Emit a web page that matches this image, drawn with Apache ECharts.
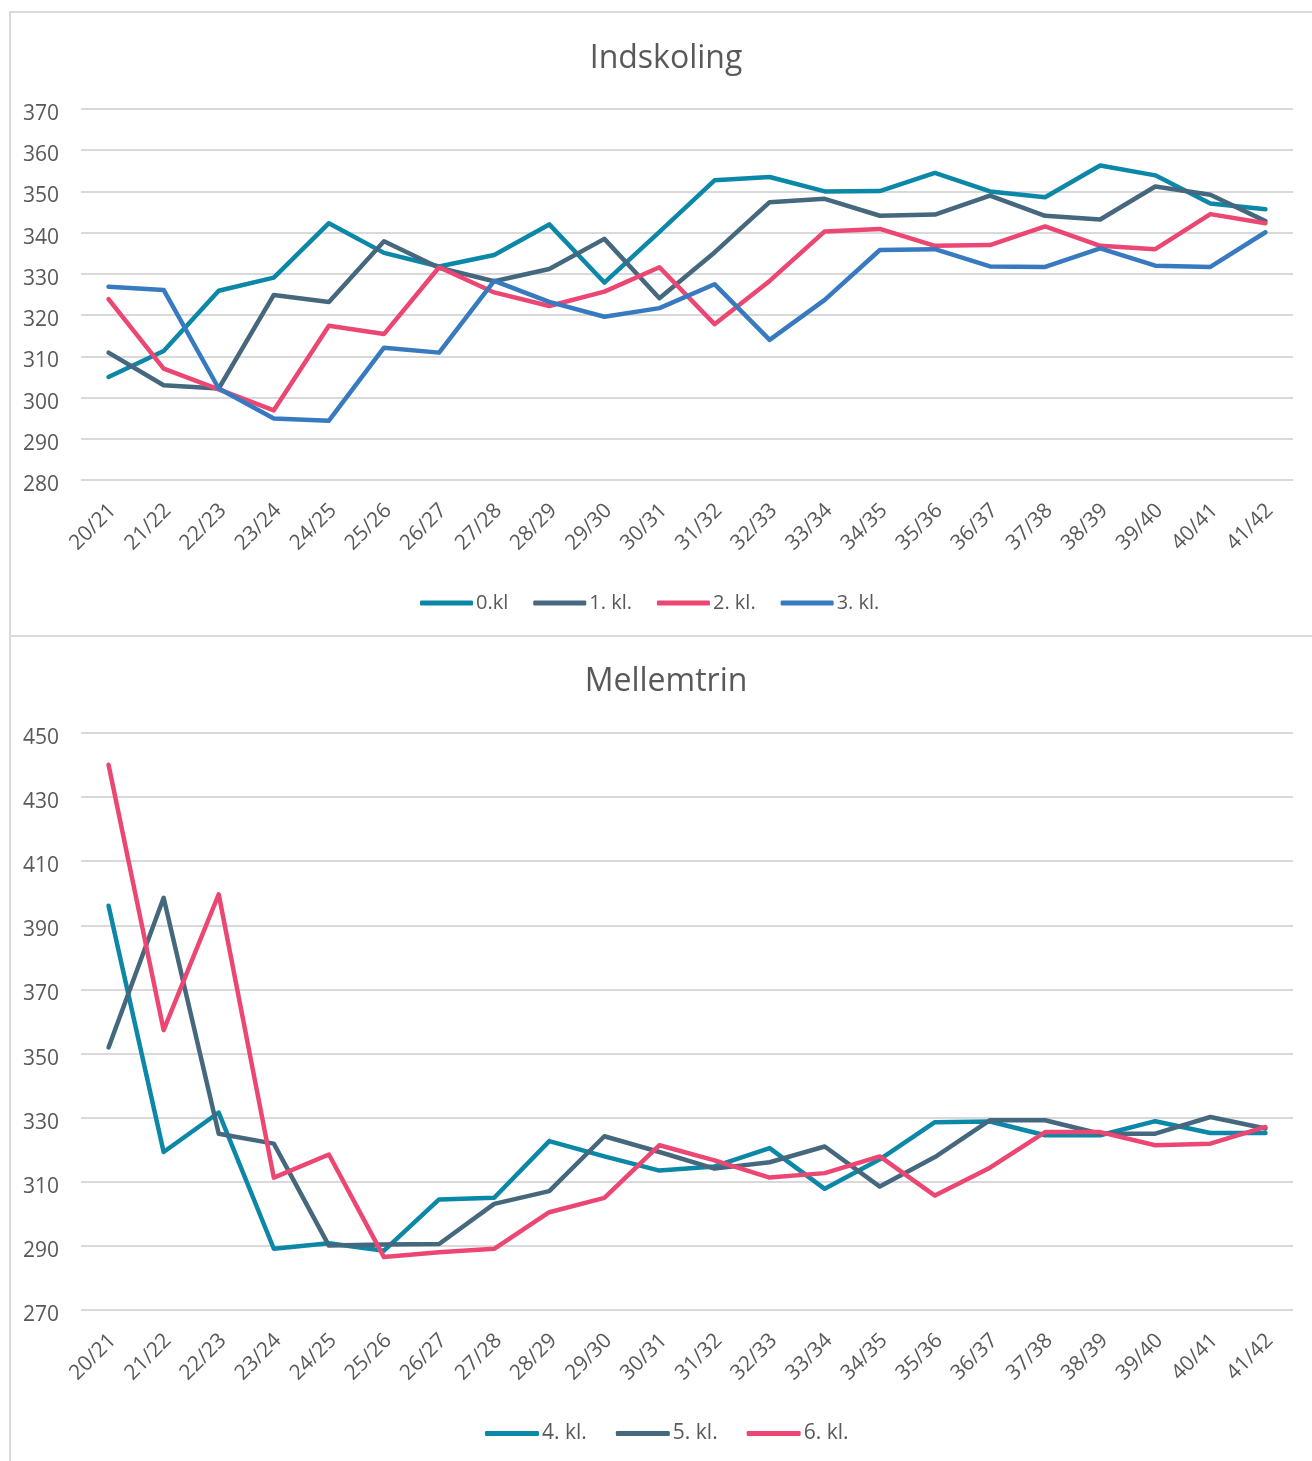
<!DOCTYPE html>
<html>
<head>
<meta charset="utf-8">
<script src="https://cdn.jsdelivr.net/npm/echarts@6/dist/echarts.min.js"></script>
<style>
  html, body { margin: 0; padding: 0; background: #fff; }
  #wrap { position: relative; width: 1312px; height: 1461px; overflow: hidden; }
  .frame { position: absolute; border: 2px solid #d9d9d9; box-sizing: border-box; }
  #chart { position: absolute; left: 0; top: 0; width: 1312px; height: 1461px; }
</style>
</head>
<body>
<div id="wrap">
  <div class="frame" style="left:9px; top:11px; width:1320px; height:626px;"></div>
  <div class="frame" style="left:9px; top:635px; width:1320px; height:840px;"></div>
  <div id="chart"></div>
</div>
<script>
// skoleår
var seasons = ['20/21', '21/22', '22/23', '23/24', '24/25', '25/26', '26/27', '27/28', '28/29', '29/30', '30/31',
  '31/32', '32/33', '33/34', '34/35', '35/36', '36/37', '37/38', '38/39', '39/40', '40/41', '41/42'];

// Indskoling
var kl0 = [305.0, 311.3, 325.9, 329.1, 342.3, 335.1, 331.8, 334.6, 342.0, 327.9, 340.2, 352.7, 353.5, 350.0, 350.1, 354.5, 350.0, 348.6, 356.3, 353.9, 347.1, 345.7];
var kl1 = [310.9, 303.0, 302.2, 324.9, 323.2, 337.9, 331.5, 328.2, 331.2, 338.5, 324.1, 335.2, 347.4, 348.2, 344.1, 344.4, 349.0, 344.1, 343.2, 351.2, 349.2, 342.8];
var kl2 = [323.9, 307.0, 302.0, 296.9, 317.4, 315.4, 331.6, 325.5, 322.2, 325.7, 331.6, 317.8, 328.3, 340.3, 340.9, 336.8, 337.0, 341.5, 336.8, 336.0, 344.5, 342.3];
var kl3 = [326.9, 326.1, 302.2, 294.9, 294.4, 312.1, 310.9, 328.3, 323.2, 319.6, 321.7, 327.5, 314.0, 323.7, 335.8, 336.0, 331.8, 331.7, 336.2, 332.0, 331.7, 340.1];

// Mellemtrin
var kl4 = [396.1, 319.3, 331.6, 289.1, 290.8, 288.5, 304.5, 305.0, 322.7, 317.9, 313.5, 314.8, 320.5, 307.8, 317.0, 328.6, 328.8, 324.5, 324.5, 328.9, 325.2, 325.2];
var kl5 = [351.9, 398.6, 325.0, 321.9, 290.1, 290.4, 290.6, 303.1, 307.1, 324.2, 319.3, 314.1, 316.1, 321.0, 308.5, 317.7, 329.2, 329.2, 325.0, 325.0, 330.2, 326.6];
var kl6 = [440.1, 357.3, 399.7, 311.3, 318.5, 286.5, 288.0, 289.1, 300.5, 305.0, 321.4, 316.7, 311.3, 312.7, 317.9, 305.7, 314.4, 325.5, 325.5, 321.4, 321.9, 327.1];

// y-akser
var topAxis = { min: 280, max: 370, step: 10 };
var bottomAxis = { min: 270, max: 450, step: 20 };

var txt = '#595959';
var font = 'Open Sans';

var chart = echarts.init(document.getElementById('chart'));

function xAxis(grid) {
  return {
    type: 'category',
    gridIndex: grid,
    data: seasons,
    boundaryGap: true,
    axisLine: { show: false },
    axisTick: { show: false },
    axisLabel: {
      rotate: 45, margin: 23, interval: 0,
      align: 'right', verticalAlign: 'top', lineHeight: 12,
      color: txt, fontSize: 21, fontFamily: font
    }
  };
}

function yAxis(grid, ax) {
  return {
    type: 'value',
    gridIndex: grid,
    min: ax.min,
    max: ax.max,
    interval: ax.step,
    axisLine: { show: false },
    axisTick: { show: false },
    axisLabel: {
      color: txt, fontSize: 21, fontFamily: font, margin: 22,
      verticalAlign: 'top', lineHeight: 10
    },
    splitLine: { lineStyle: { color: '#d9d9d9', width: 2 } }
  };
}

function line(name, data, color, idx) {
  return {
    name: name,
    type: 'line',
    xAxisIndex: idx,
    yAxisIndex: idx,
    data: data,
    symbol: 'none',
    color: color,
    lineStyle: { width: 4.5, color: color, cap: 'round', join: 'round' }
  };
}

function legend(names, left, top, size, width, gap) {
  return {
    data: names,
    left: left,
    top: top,
    icon: 'roundRect',
    itemWidth: width,
    itemHeight: 5,
    itemGap: gap,
    textStyle: { color: txt, fontSize: size, fontFamily: font, padding: [0, 0, 0, -2] }
  };
}

function title(text, top) {
  return {
    text: text, left: 661, top: top, textAlign: 'center',
    textStyle: { color: txt, fontSize: 32, fontWeight: 'normal', fontFamily: font }
  };
}

var option = {
  animation: false,
  title: [title('Indskoling', 38), title('Mellemtrin', 661)],
  legend: [
    legend(['0.kl', '1. kl.', '2. kl.', '3. kl.'], 415, 588, 20, 53, 25),
    legend(['4. kl.', '5. kl.', '6. kl.'], 480, 1418, 21, 54, 29)
  ],
  grid: [
    { left: 81, right: 19, top: 109, height: 371 },
    { left: 81, right: 19, top: 733, height: 577 }
  ],
  xAxis: [xAxis(0), xAxis(1)],
  yAxis: [yAxis(0, topAxis), yAxis(1, bottomAxis)],
  series: [
    line('0.kl', kl0, '#0B87A7', 0),
    line('1. kl.', kl1, '#45687E', 0),
    line('2. kl.', kl2, '#EC4773', 0),
    line('3. kl.', kl3, '#377AC0', 0),
    line('4. kl.', kl4, '#0B87A7', 1),
    line('5. kl.', kl5, '#45687E', 1),
    line('6. kl.', kl6, '#EC4773', 1)
  ]
};

chart.setOption(option);
</script>
</body>
</html>
